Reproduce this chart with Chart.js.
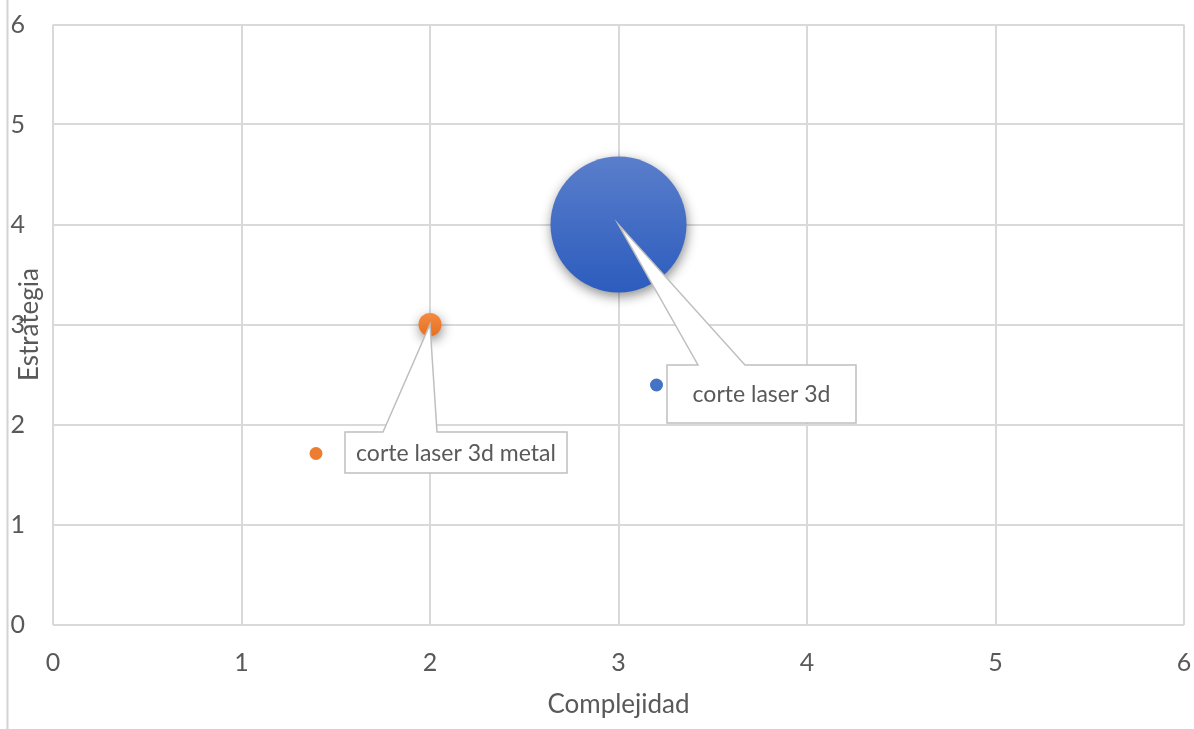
<!DOCTYPE html>
<html>
<head>
<meta charset="utf-8">
<script src="https://cdn.jsdelivr.net/npm/chart.js@4.4.1/dist/chart.umd.min.js"></script>
<style>
  html, body { margin: 0; padding: 0; background: #ffffff; }
  #wrap { width: 1194px; height: 729px; position: relative; }
</style>
</head>
<body>
<div id="wrap"><canvas id="chart" width="1194" height="729"></canvas></div>
<script>
// Series: one bubble per product
const seriesNames = ['corte laser 3d', 'corte laser 3d metal'];
const complejidad = [3, 2];      // x
const estrategia  = [4, 3];      // y
const tamano      = [35, 1];     // bubble size
const seriesColors = ['#4472C4', '#ED7D31'];
const gradientStops = [['#5a7ecb', '#2c5cbe'], ['#f38a42', '#e8701f']];

// Axis ticks
const xTicks = [0, 1, 2, 3, 4, 5, 6];
const yTicks = [0, 1, 2, 3, 4, 5, 6];
const xTitle = 'Complejidad';
const yTitle = 'Estrategia';

const FONT = 'Lato, "Open Sans", sans-serif';
const TEXT = '#595959';
const GRID = '#d9d9d9';
const MAX_R = 68;
const maxSize = Math.max(...tamano);

// Bubble area proportional to size
function radiusFor(size) { return MAX_R * Math.sqrt(size / maxSize); }

// Bubbles may spill past the plot edge without shrinking the plot area
const BubbleCtl = Chart.registry.getController('bubble');
BubbleCtl.prototype.getMaxOverflow = function () { return false; };

// Callout placement relative to each bubble centre (pixels)
const callouts = [
  { box: [48.5, 140.5, 189, 58], wedge: [79.5, 126.5], key: [38, 160.5] },
  { box: [-85, 107.5, 222, 41], wedge: [-47, 7], key: [-114, 129] }
];

function bubbleFill(i) {
  return function (ctx) {
    const chart = ctx.chart;
    const sy = chart.scales && chart.scales.y;
    if (!chart.chartArea || !sy || !ctx.raw) return seriesColors[i];
    const cy = sy.getPixelForValue(ctx.raw.y);
    const r = ctx.raw.r;
    if (!isFinite(cy)) return seriesColors[i];
    const g = chart.ctx.createLinearGradient(0, cy - r, 0, cy + r);
    g.addColorStop(0, gradientStops[i][0]);
    g.addColorStop(1, gradientStops[i][1]);
    return g;
  };
}

const datasets = seriesNames.map((name, i) => ({
  label: name,
  data: [{ x: complejidad[i], y: estrategia[i], r: radiusFor(tamano[i]) }],
  backgroundColor: bubbleFill(i),
  borderWidth: 0,
  hoverBorderWidth: 0,
  clip: false
}));

// Left edge rule
const edgeRule = {
  id: 'edgeRule',
  beforeDraw(chart) {
    const c = chart.ctx;
    c.save();
    c.strokeStyle = '#d3d3d3';
    c.lineWidth = 2;
    c.beginPath();
    c.moveTo(7.5, 0);
    c.lineTo(7.5, chart.height);
    c.stroke();
    c.restore();
  }
};

// Soft drop shadow under bubbles
const bubbleShadow = {
  id: 'bubbleShadow',
  beforeDatasetDraw(chart) {
    const c = chart.ctx;
    c.save();
    c.shadowColor = 'rgba(0,0,0,0.45)';
    c.shadowBlur = 12;
    c.shadowOffsetX = 1;
    c.shadowOffsetY = 4;
  },
  afterDatasetDraw(chart) {
    chart.ctx.restore();
  }
};

// Rotated y-axis title, drawn over the tick column
const yTitlePlugin = {
  id: 'yTitlePlugin',
  afterDraw(chart) {
    const c = chart.ctx;
    const sy = chart.scales.y;
    c.save();
    c.translate(30, (sy.top + sy.bottom) / 2);
    c.rotate(-Math.PI / 2);
    c.font = `26px ${FONT}`;
    c.fillStyle = TEXT;
    c.textAlign = 'center';
    c.textBaseline = 'middle';
    c.fillText(yTitle, 0, 0);
    c.restore();
  }
};

// Callout data labels with pointer and legend key
const calloutLabels = {
  id: 'calloutLabels',
  afterDatasetsDraw(chart) {
    const c = chart.ctx;
    chart.data.datasets.forEach((ds, i) => {
      const el = chart.getDatasetMeta(i).data[0];
      const cx = el.x, cy = el.y;
      const co = callouts[i];
      const [bx, by, bw, bh] = co.box;
      const L = cx + bx, T = cy + by, R = L + bw, B = T + bh;
      c.save();
      c.beginPath();
      c.moveTo(L, T);
      c.lineTo(cx + co.wedge[0], T);
      c.lineTo(cx, cy);
      c.lineTo(cx + co.wedge[1], T);
      c.lineTo(R, T);
      c.lineTo(R, B);
      c.lineTo(L, B);
      c.closePath();
      c.fillStyle = '#ffffff';
      c.fill();
      c.strokeStyle = '#bfbfbf';
      c.lineWidth = 1.5;
      c.lineJoin = 'miter';
      c.stroke();
      c.font = `23px ${FONT}`;
      c.fillStyle = TEXT;
      c.textAlign = 'center';
      c.textBaseline = 'middle';
      c.fillText(ds.label, (L + R) / 2, (T + B) / 2 + 1);
      c.beginPath();
      c.arc(cx + co.key[0], cy + co.key[1], 6.5, 0, Math.PI * 2);
      c.fillStyle = seriesColors[i];
      c.fill();
      c.restore();
    });
  }
};

// Tick labels may overhang the plot edges without pushing it inward
function noOverhang(s) {
  s.paddingTop = 0; s.paddingBottom = 0; s.paddingLeft = 0; s.paddingRight = 0;
}

new Chart(document.getElementById('chart'), {
  type: 'bubble',
  data: { datasets },
  plugins: [edgeRule, bubbleShadow, calloutLabels, yTitlePlugin],
  options: {
    responsive: false,
    animation: false,
    devicePixelRatio: 1,
    events: [],
    layout: { padding: { left: 0, top: 24.5, right: 10, bottom: 0 } },
    plugins: { legend: { display: false }, tooltip: { enabled: false } },
    scales: {
      x: {
        type: 'linear',
        min: xTicks[0],
        max: xTicks[xTicks.length - 1],
        afterBuildTicks(s) { s.ticks = xTicks.map(v => ({ value: v })); },
        afterFit(s) { s.height = 104.5; noOverhang(s); },
        grid: { color: GRID, lineWidth: 2, drawTicks: false },
        border: { display: false },
        ticks: { color: TEXT, font: { family: FONT, size: 25 }, padding: 23.5, maxRotation: 0 },
        title: { display: true, text: xTitle, color: TEXT, font: { family: FONT, size: 26 }, padding: { top: 0, bottom: 8.5 } }
      },
      y: {
        type: 'linear',
        min: yTicks[0],
        max: yTicks[yTicks.length - 1],
        afterBuildTicks(s) { s.ticks = yTicks.map(v => ({ value: v })); },
        afterFit(s) { s.width = 53; noOverhang(s); },
        grid: { color: GRID, lineWidth: 2, drawTicks: false },
        border: { display: false },
        ticks: { color: TEXT, font: { family: FONT, size: 25 }, padding: 28 }
      }
    }
  }
});
</script>
</body>
</html>
